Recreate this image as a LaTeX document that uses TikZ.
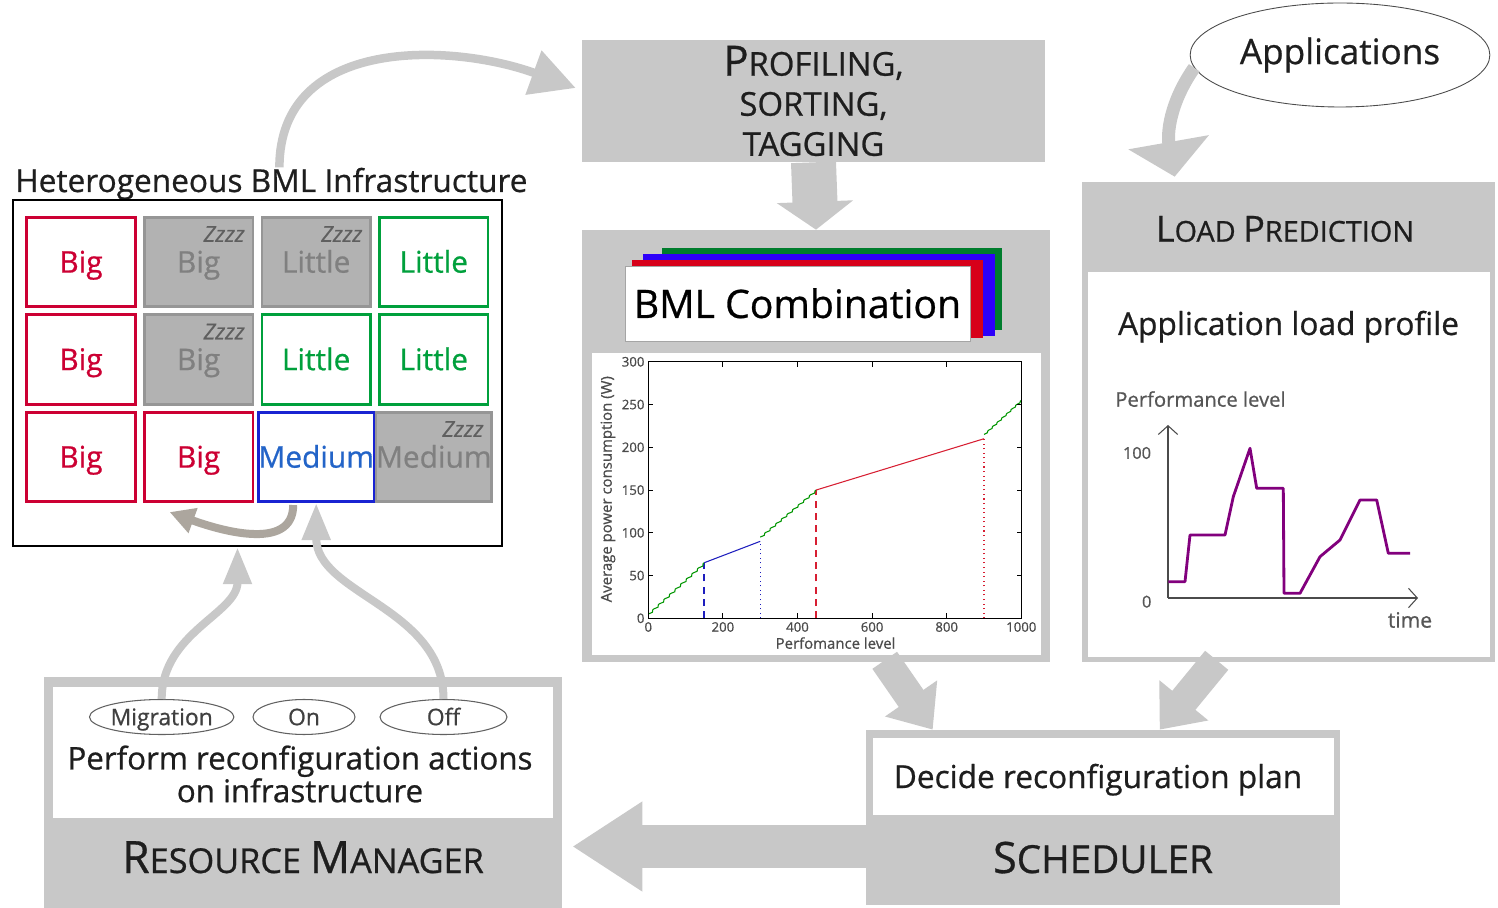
\documentclass[tikz,border=0pt]{standalone}
\usepackage{fontspec}
\setmainfont{Open Sans}[RawFeature={embolden=0.7}]
\usepackage{graphicx}
\usepackage{tikz}
\usetikzlibrary{positioning,calc,arrows.meta,shapes.geometric}

\definecolor{panelgray}{RGB}{200,200,200}
\definecolor{cellgray}{RGB}{178,178,178}
\definecolor{cellframe}{RGB}{150,150,150}
\definecolor{sleeptext}{RGB}{128,128,128}
\definecolor{sleepzzz}{RGB}{95,95,95}
\definecolor{bigred}{RGB}{204,0,51}
\definecolor{littlegreen}{RGB}{0,160,60}
\definecolor{mediumblue}{RGB}{25,35,210}
\definecolor{mediumtext}{RGB}{35,100,200}
\definecolor{loopgray}{RGB}{172,166,158}
\definecolor{loadpurple}{RGB}{130,0,125}
\definecolor{inkdark}{RGB}{30,30,30}
\definecolor{bmlgreen}{RGB}{0,125,45}
\definecolor{bmlblue}{RGB}{45,0,250}
\definecolor{bmlred}{RGB}{215,0,25}
\definecolor{plotgreen}{RGB}{0,150,0}
\definecolor{plotblue}{RGB}{30,30,190}
\definecolor{plotred}{RGB}{215,30,50}

\newcommand{\capinit}[2][1.25]{\scalebox{#1}{#2}}

\begin{document}
\begin{tikzpicture}[
  x=0.02cm, y=-0.02cm,
  panel/.style={rectangle, fill=panelgray, inner sep=0pt},
  whitepanel/.style={rectangle, fill=white, inner sep=0pt},
  cell/.style={rectangle, line width=1.5pt, minimum width=2.17cm, minimum height=1.79cm, inner sep=0pt,
    font=\fontsize{17}{17}\selectfont, text height=12.1pt, text depth=0pt},
  bigcell/.style={cell, draw=bigred, fill=white, text=bigred},
  littlecell/.style={cell, draw=littlegreen, fill=white, text=littlegreen},
  mediumcell/.style={cell, draw=mediumblue, fill=white, text=mediumtext},
  sleepcell/.style={cell, draw=cellframe, fill=cellgray, text=sleeptext},
  zzz/.style={font=\fontsize{12.5}{12.5}\selectfont\itshape, text=sleepzzz, inner sep=0pt},
  actionnode/.style={ellipse, draw=inkdark!70, line width=0.6pt, minimum height=0.7cm, inner sep=0pt,
    font=\fontsize{13}{13}\selectfont, text=inkdark!85, text height=9.3pt, text depth=0pt},
  textlabel/.style={anchor=base, inner sep=0pt, text=inkdark},
  ticklabel/.style={font=\fontsize{7.5}{7.5}\selectfont, text=inkdark!80, inner sep=2pt},
  fatarrow/.style={draw=panelgray, line width=0.86cm, -{Triangle[length=1.4cm, width=1.7cm]}},
  downarrow/.style={draw=panelgray, line width=0.9cm, -{Triangle[length=0.56cm, width=1.5cm]}},
  slantarrow/.style={draw=panelgray, line width=0.6cm, -{Triangle[length=0.76cm, width=1.22cm]}},
  bendarrow/.style={draw=panelgray, line width=0.17cm, -{Triangle[length=0.9cm, width=0.9cm]}},
  flatarrow/.style={draw=panelgray, line width=0.26cm, -{Triangle[length=0.7cm, width=1.6cm]}},
  thinarrow/.style={draw=panelgray, line width=0.16cm, -{Triangle[length=0.74cm, width=0.54cm]}},
  looparrow/.style={draw=loopgray, line width=0.16cm, -{Triangle[length=0.5cm, width=0.5cm]}},
  ]
  \useasboundingbox (0,0) rectangle (1498,908);

  %Nodes
  \node[panel, minimum width=9.26cm, minimum height=2.44cm, align=center,
    font=\fontsize{18.7}{22.8}\selectfont, text=inkdark] (prof) at (813.5,101)
    {\capinit[1.27]{P}ROFILING,\\SORTING,\\TAGGING};
  \node[ellipse, draw=inkdark!80, line width=0.5pt, minimum width=5.68cm, minimum height=2.08cm,
    font=\fontsize{20}{20}\selectfont, text=inkdark] (apps) at (1340,55) {Applications};

  % load prediction
  \node[panel, minimum width=8.26cm, minimum height=9.6cm] (lp) at (1288.5,422) {};
  \node[whitepanel, minimum width=8.04cm, minimum height=7.7cm] (lpbody) at (1289,464.5) {};
  \node[textlabel, font=\fontsize{16.4}{16.4}\selectfont] (lptitle) at (1285,241.7)
    {\capinit{L}OAD \capinit{P}REDICTION};
  \node[textlabel, font=\fontsize{18}{18}\selectfont] (lpname) at (1288.5,335) {Application load profile};
  \node[textlabel, anchor=base west, font=\fontsize{11.5}{11.5}\selectfont, text=inkdark!75] (lpaxis) at (1115,406.7) {Performance level};
  \node[font=\fontsize{9.3}{9.3}\selectfont, text=inkdark!75, inner sep=0pt] (lphundred) at (1137,453) {100};
  \node[font=\fontsize{9.3}{9.3}\selectfont, text=inkdark!75, inner sep=0pt] (lpzero) at (1146.7,601.7) {0};
  \node[font=\fontsize{12}{12}\selectfont, text=inkdark!75, inner sep=0pt] (lptime) at (1410,620) {time};
  \draw[inkdark!80, line width=0.6pt, -{Straight Barb[length=5pt, width=11pt]}] (1168,598) -- (1168,425);
  \draw[inkdark!80, line width=0.6pt, -{Straight Barb[length=5pt, width=11pt]}] (1168,598) -- (1418,598);
  \draw[loadpurple, line width=1.6pt, line join=round] (1168.3,581.7) -- (1185,581.7) -- (1190,535) -- (1225,535)
    -- (1233.3,496.7) -- (1250,448.3) -- (1256.7,488.3) -- (1283.3,488.3) -- (1284,593.3) -- (1300,593.3)
    -- (1320,556.7) -- (1340,540) -- (1360,500) -- (1376.7,500) -- (1388.3,553.3) -- (1410,553.3);

  % BML combination
  \node[panel, minimum width=9.36cm, minimum height=8.64cm] (bml) at (816,446) {};
  \fill[bmlgreen] (662,248) rectangle (1002,330);
  \fill[bmlblue] (643,254) rectangle (995,336);
  \fill[bmlred] (632,260) rectangle (983,338);
  \node[draw=inkdark!40, fill=white, line width=0.5pt, minimum width=6.9cm, minimum height=1.5cm, inner sep=0pt,
    font=\fontsize{22.3}{22.3}\selectfont, text=black, text height=15.9pt, text depth=0pt] (bmlname) at (797.5,304) {BML Combination};
  \node[whitepanel, minimum width=8.98cm, minimum height=6.04cm] (plotarea) at (816.5,504) {};
  \begin{scope}[shift={(648.3,618.3)}, x=0.007467cm, y=0.017106cm]
    \draw[plotblue, line width=0.9pt, dash pattern=on 4pt off 3pt] (150,0) -- (150,65);
    \draw[plotblue, line width=0.6pt, dotted] (300,0) -- (300,90);
    \draw[plotred, line width=0.9pt, dash pattern=on 4pt off 3pt] (450,0) -- (450,150);
    \draw[plotred, line width=0.6pt, dotted] (900,0) -- (900,210);
    \draw[plotgreen, line width=0.6pt] (0,5) \foreach \k in {1,...,10} { -- ++(11,2) -- ++(1,3) -- ++(3,1) };
    \draw[plotblue, line width=0.6pt] (150,65) -- (300,90);
    \draw[plotgreen, line width=0.6pt] (300,95) \foreach \k in {1,...,10} { -- ++(11,2) -- ++(1,2.5) -- ++(3,1) };
    \draw[plotred, line width=0.6pt] (450,150) -- (900,210);
    \draw[plotgreen, line width=0.6pt] (900,215) \foreach \k in {1,...,8} { -- ++(9,2) -- ++(1,2) -- ++(2.5,1) };
    \draw[black, line width=0.6pt] (0,0) rectangle (1000,300);
    \foreach \t in {0,200,...,1000} {
      \draw[line width=0.5pt] (\t,0) -- ++(0,6) (\t,300) -- ++(0,-6);
      \node[ticklabel, below] at (\t,0) {\t};
    }
    \foreach \t in {0,50,...,300} {
      \draw[line width=0.5pt] (0,\t) -- ++(12,0) (1000,\t) -- ++(-12,0);
      \node[ticklabel, left] at (0,\t) {\t};
    }
    \node[font=\fontsize{8.5}{8.5}\selectfont, text=inkdark!80] (plotx) at (502,-29) {Perfomance level};
    \node[font=\fontsize{8.5}{8.5}\selectfont, text=inkdark!80, rotate=90] (ploty) at (-108,151) {Average power consumption (W)};
  \end{scope}

  % infrastructure
  \node[textlabel, anchor=base west, font=\fontsize{18}{18}\selectfont] (title) at (15,192) {Heterogeneous BML Infrastructure};
  \node[draw=black, fill=white, line width=1.4pt, minimum width=9.78cm, minimum height=6.92cm, inner sep=0pt] (infra) at (257.5,373) {};
  \foreach \r/\c/\kind/\word in {1/1/bigcell/Big, 1/2/sleepcell/Big, 1/3/sleepcell/Little, 1/4/littlecell/Little,
      2/1/bigcell/Big, 2/2/sleepcell/Big, 2/3/littlecell/Little, 2/4/littlecell/Little,
      3/1/bigcell/Big, 3/2/bigcell/Big, 3/3/mediumcell/Medium, 3/4/sleepcell/Medium}
    \node[\kind] (cell\r\c) at ({81+117.6*(\c-1)},{262+97.5*(\r-1)}) {\word};
  \foreach \n in {cell12,cell13,cell22,cell34}
    \node[zzz] at ($(\n.north east)+(-30,18)$) {Zzzz};

  % resource manager
  \node[panel, minimum width=10.36cm, minimum height=4.62cm] (rm) at (303,792.5) {};
  \node[whitepanel, minimum width=10cm, minimum height=2.62cm] (rmbody) at (303,752.5) {};
  \node[actionnode, minimum width=2.66cm] (mig) at (161.7,717) {Migration};
  \node[actionnode, minimum width=2.04cm] (on) at (304,717) {On};
  \node[actionnode, minimum width=2.54cm] (off) at (443.5,717) {Off};
  \node[textlabel, anchor=center, align=center, font=\fontsize{17.8}{18.6}\selectfont] (rmtask) at (300,774)
    {Perform reconfiguration actions\\on infrastructure};
  \node[textlabel, font=\fontsize{19.5}{19.5}\selectfont] (rmtitle) at (303,873) {\capinit[1.3]{R}ESOURCE \capinit[1.3]{M}ANAGER};

  % scheduler
  \node[panel, minimum width=9.48cm, minimum height=3.5cm] (sched) at (1103,817.5) {};
  \node[whitepanel, minimum width=9.22cm, minimum height=1.54cm] (schedbody) at (1103.5,776.5) {};
  \node[textlabel, font=\fontsize{18}{18}\selectfont] (schedtask) at (1098,788) {Decide reconfiguration plan};
  \node[textlabel, font=\fontsize{22}{22}\selectfont] (schedtitle) at (1103,873) {\capinit[1.12]{S}CHEDULER};

  %Lines
  \draw[bendarrow, looseness=1.1] ($(title.north)+(8,0)$) to[out=90, in=160] ($(prof.west)+(-6,-13)$);
  \draw[flatarrow] (apps.185) to[out=235, in=100] ($(lp.north west)+(93,-5)$);
  \draw[downarrow] (prof.south) -- (bml.north);
  \draw[slantarrow] ($(bml.south west)+(303,-2)$) -- ($(sched.north west)+(67,0)$);
  \draw[slantarrow] ($(lp.south west)+(135,-2)$) -- ($(sched.north west)+(294,0)$);
  \draw[fatarrow] ($(sched.west)+(10,29)$) -- ($(rm.east)+(10,54)$);
  \draw[thinarrow] (mig.north) to[out=90, in=-90] ($(infra.south)+(-20,0)$);
  \draw[thinarrow] (off.north) to[out=90, in=-90] (cell33.south);
  \draw[looparrow] ($(cell33.south)+(-23,2)$) to[out=-90, in=-20] ($(cell32.south)+(-29,9)$);
\end{tikzpicture}
\end{document}
